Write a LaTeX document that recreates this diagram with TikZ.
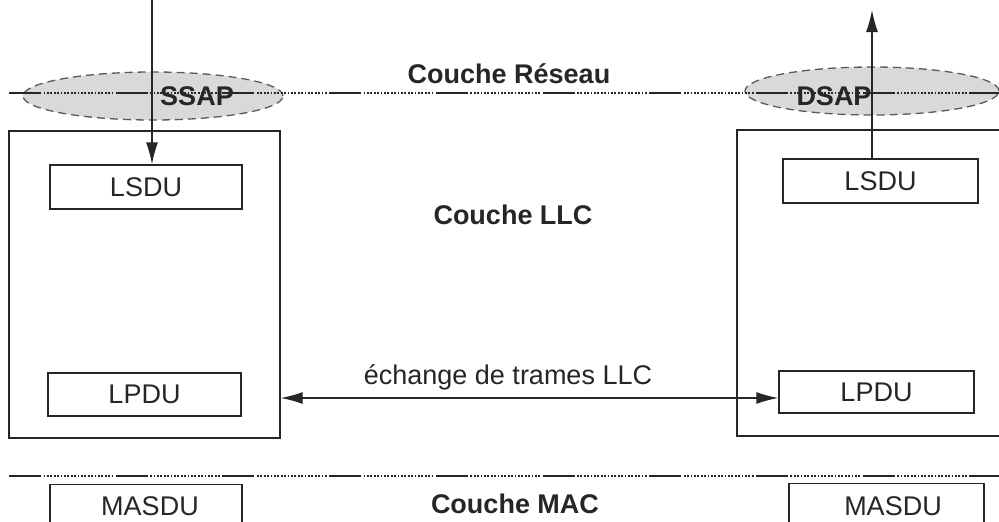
\documentclass[tikz,border=0pt]{standalone}
\usepackage{fontspec}
\setmainfont{Liberation Sans}
\usetikzlibrary{shapes.geometric,arrows.meta}
\definecolor{ink}{HTML}{262626}
\definecolor{sapfill}{HTML}{D9D9D9}
\definecolor{sapline}{HTML}{5A5A5A}
\tikzset{
  txt/.style={font=\fontsize{27}{32}\selectfont, text=ink, inner sep=0pt},
  btxt/.style={font=\fontsize{27}{32}\selectfont\bfseries, text=ink, inner sep=0pt},
  pdubox/.style={draw=ink, line width=1.4pt, inner sep=0pt, font=\fontsize{27}{32}\selectfont, text=ink},
  layerbox/.style={draw=ink, line width=1.4pt, inner sep=0pt},
  sapell/.style={ellipse, draw=sapline, fill=sapfill, line width=1.3pt, dash pattern=on 8pt off 5pt, inner sep=0pt},
  layerline/.style={draw=ink, line width=1.6pt, dash pattern=on 32pt off 2.5pt on 1.8pt off 1.6pt on 1.8pt off 1.6pt on 1.8pt off 1.6pt on 1.8pt off 1.6pt on 1.8pt off 1.6pt on 1.8pt off 1.6pt on 1.8pt off 1.6pt on 1.8pt off 1.6pt on 1.8pt off 1.6pt on 1.8pt off 1.6pt on 1.8pt off 1.6pt on 1.8pt off 1.6pt on 1.8pt off 1.6pt on 1.8pt off 1.6pt on 1.8pt off 1.6pt on 1.8pt off 1.6pt on 1.8pt off 1.6pt on 1.8pt off 1.6pt on 1.8pt off 1.6pt on 1.8pt off 1.6pt on 1.8pt off 2.4pt},
  flow/.style={draw=ink, line width=1.4pt},
  toarrow/.style={-{Latex[length=22pt, width=12pt]}},
  botharrow/.style={{Latex[length=22pt, width=12pt]}-{Latex[length=22pt, width=12pt]}}
}
\begin{document}
\begin{tikzpicture}[x=1pt, y=-1pt]
\clip (0,0) rectangle (999,522);
\fill[white] (0,0) rectangle (999,522);

% SAP ellipses
\node[sapell, minimum width=260pt, minimum height=48pt] (ssapE) at (153,96) {};
\node[sapell, minimum width=254pt, minimum height=48pt] (dsapE) at (872,91) {};

% layer lines
\coordinate (netL) at (9,93);
\coordinate (netR) at (1010,93);
\coordinate (macL) at (9,476);
\coordinate (macR) at (1010,476);
\draw[layerline] (netL) -- (netR);
\draw[layerline] (macL) -- (macR);

% SAP labels
\node[btxt] (ssap) at (197,96) {SSAP};
\node[btxt] (dsap) at (834,96) {DSAP};

% layer titles
\node[btxt, anchor=base] (reseau) at (509,83) {Couche Réseau};
\node[btxt, anchor=base] (llc) at (513,224) {Couche LLC};
\node[btxt, anchor=base] (mac) at (515,513) {Couche MAC};

% LLC entities
\node[layerbox, minimum width=271pt, minimum height=307pt] (bigL) at (144.5,284.5) {};
\node[layerbox, minimum width=290pt, minimum height=306pt] (bigR) at (882,283) {};

\node[pdubox, minimum width=192pt, minimum height=44pt] (lsduL) at (146,187) {LSDU};
\node[pdubox, minimum width=193pt, minimum height=43pt] (lpduL) at (144.5,394.5) {LPDU};
\node[pdubox, minimum width=195pt, minimum height=44pt] (lsduR) at (880.5,181) {LSDU};
\node[pdubox, minimum width=195pt, minimum height=42pt] (lpduR) at (876.5,392) {LPDU};

% MAC boxes
\node[pdubox, minimum width=192pt, minimum height=60pt, anchor=north] (masduL) at (146,484) {};
\node[txt, anchor=base] (masduLt) at (150,515) {MASDU};
\node[pdubox, minimum width=195pt, minimum height=60pt, anchor=north] (masduR) at (886.5,483) {};
\node[txt, anchor=base] (masduRt) at (893,515) {MASDU};

% vertical arrows
\coordinate (srcin) at (152,0);
\coordinate (dstout) at (872,10);
\draw[flow, toarrow] (srcin) -- (lsduL.north -| srcin);
\draw[flow, toarrow] (lsduR.north -| dstout) -- (dstout);

% exchange arrow
\coordinate (exy) at (0,398);
\draw[flow, botharrow] (bigL.east |- exy) -- (lpduR.west |- exy);
\node[txt, anchor=base] (exch) at (508,384) {échange de trames LLC};
\end{tikzpicture}
\end{document}
